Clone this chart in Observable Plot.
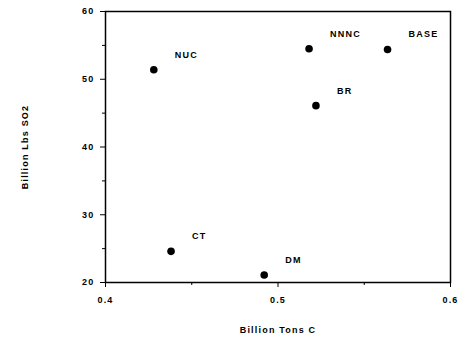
<!DOCTYPE html>
<html>
<head>
<meta charset="utf-8">
<script src="https://cdn.jsdelivr.net/npm/d3@7"></script>
<script src="https://cdn.jsdelivr.net/npm/@observablehq/plot@0.6"></script>
<style>
  html, body { margin: 0; padding: 0; background: #fff; }
  #chart svg { font-family: "Liberation Sans", Arial, sans-serif; font-weight: bold; }
  #chart svg text { letter-spacing: 1.2px; }
</style>
</head>
<body>
<div id="chart"></div>
<script>
const scenarios = ["NUC", "NNNC", "BASE", "BR", "CT", "DM"];
const carbon = [0.428, 0.518, 0.5635, 0.522, 0.438, 0.492];
const so2 = [51.4, 54.5, 54.4, 46.1, 24.6, 21.1];
const xTicks = [0.4, 0.5, 0.6];
const xMinor = [0.45, 0.55];
const yTicks = [20, 30, 40, 50, 60];
const yMinor = [25, 35, 45, 55];

const data = scenarios.map((s, i) => ({name: s, x: carbon[i], y: so2[i]}));

const chart = Plot.plot({
  width: 469,
  height: 343,
  marginLeft: 105,
  marginRight: 19,
  marginTop: 11,
  marginBottom: 61,
  style: {background: "#fff", color: "#000", fontSize: "9px"},
  x: {domain: [0.4, 0.6]},
  y: {domain: [20, 60]},
  marks: [
    Plot.frame({stroke: "#000", strokeWidth: 1.5}),
    Plot.axisX({ticks: xTicks, tickSize: 5, tickPadding: 9, tickFormat: d => d.toFixed(1),
      label: "Billion Tons C", labelAnchor: "center", labelOffset: 50, labelArrow: "none",
      fontWeight: "bold", fontSize: 9}),
    Plot.axisX({ticks: xMinor, tickSize: 3, tickFormat: () => "", label: null}),
    Plot.axisY({ticks: yTicks, tickSize: 5, tickPadding: 6,
      label: "Billion Lbs SO2", labelAnchor: "center", labelOffset: 84, labelArrow: "none",
      fontWeight: "bold", fontSize: 9}),
    Plot.axisY({ticks: yMinor, tickSize: 3, tickFormat: () => "", label: null}),
    Plot.dot(data, {x: "x", y: "y", r: 3.8, fill: "#000", stroke: "none"}),
    Plot.text(data, {x: "x", y: "y", text: "name", textAnchor: "start", dx: 21, dy: -15,
      fontWeight: "bold", fontSize: 9, fill: "#000"})
  ]
});
document.getElementById("chart").appendChild(chart);
</script>
</body>
</html>
